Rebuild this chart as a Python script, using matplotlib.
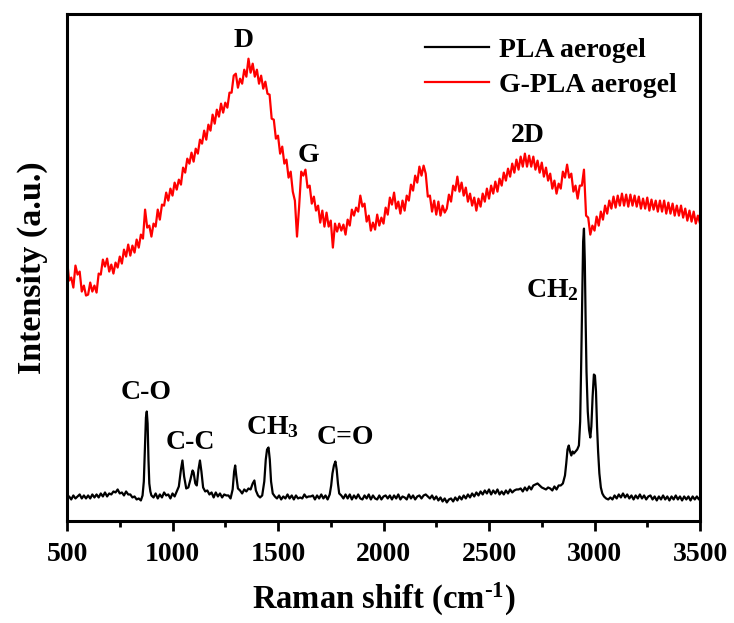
import numpy as np
import matplotlib
matplotlib.use("Agg")
import matplotlib.pyplot as plt

plt.rcParams['font.family'] = 'Liberation Serif'
plt.rcParams['font.weight'] = 'bold'
plt.rcParams['mathtext.fontset'] = 'custom'
plt.rcParams['mathtext.rm'] = 'Liberation Serif:bold'
plt.rcParams['mathtext.it'] = 'Liberation Serif:bold'
plt.rcParams['mathtext.bf'] = 'Liberation Serif:bold'

# G-PLA aerogel, sampled every 10 cm-1 from 500 to 3500
gpla_shift = np.arange(500, 3501, 10)
gpla_int = [
    262, 241, 244, 234, 256, 247, 250, 230, 236, 226,
    227, 239, 230, 236, 229, 248, 247, 262, 255, 263,
    250, 257, 248, 259, 254, 265, 258, 272, 265, 277,
    266, 276, 269, 282, 274, 287, 283, 312, 294, 296,
    285, 298, 295, 312, 302, 317, 316, 329, 321, 333,
    326, 339, 332, 342, 337, 354, 349, 363, 358, 369,
    360, 373, 368, 382, 378, 391, 382, 397, 391, 407,
    398, 412, 405, 418, 409, 419, 414, 429, 429, 446,
    448, 434, 443, 438, 452, 445, 463, 449, 458, 445,
    452, 438, 446, 433, 440, 428, 427, 403, 402, 383,
    386, 368, 375, 358, 362, 344, 350, 330, 321, 285,
    315, 350, 346, 352, 334, 336, 318, 325, 311, 316,
    299, 311, 295, 309, 295, 301, 274, 298, 290, 298,
    291, 297, 287, 302, 296, 312, 306, 314, 310, 326,
    315, 318, 300, 306, 291, 299, 292, 307, 296, 304,
    298, 314, 307, 324, 317, 329, 313, 320, 308, 321,
    311, 326, 321, 337, 331, 346, 339, 355, 346, 356,
    348, 325, 326, 310, 321, 307, 320, 306, 316, 309,
    313, 327, 320, 336, 331, 345, 330, 339, 326, 334,
    320, 328, 316, 324, 311, 323, 315, 328, 320, 333,
    323, 336, 328, 340, 330, 343, 336, 349, 341, 353,
    345, 358, 349, 362, 352, 365, 355, 368, 355, 366,
    355, 365, 352, 361, 349, 359, 345, 354, 341, 348,
    333, 341, 328, 338, 333, 350, 344, 357, 344, 348,
    330, 336, 323, 336, 336, 352, 306, 304, 287, 296,
    291, 305, 296, 310, 302, 316, 308, 321, 313, 325,
    314, 326, 316, 328, 316, 327, 315, 327, 316, 326,
    315, 325, 313, 323, 313, 324, 311, 322, 312, 321,
    310, 321, 310, 321, 308, 319, 308, 318, 306, 316,
    306, 316, 304, 313, 301, 311, 300, 310, 298, 306, 298,
]

# PLA aerogel, denser points around the bands
pla_shift = [
    500, 510, 520, 530, 540, 550, 560, 570, 580, 590,
    600, 610, 620, 630, 640, 650, 660, 670, 680, 690,
    700, 710, 720, 730, 740, 750, 760, 770, 780, 790,
    800, 810, 820, 830, 840, 850,
    858, 864, 870, 874, 878, 882, 886, 890, 895, 900,
    910, 920, 930, 940, 950, 960, 970, 980, 990, 1000,
    1010, 1020, 1030, 1040, 1047, 1055, 1065, 1075, 1085, 1095,
    1100, 1108, 1115, 1123, 1130, 1137, 1145, 1155, 1165, 1175,
    1185, 1195, 1205, 1215, 1225, 1235, 1245, 1255, 1265, 1275,
    1285, 1292, 1297, 1302, 1310, 1320, 1330, 1340, 1350, 1360,
    1370, 1380, 1388, 1395, 1405, 1415, 1425, 1435, 1442, 1448,
    1455, 1461, 1467, 1475, 1485, 1495, 1505, 1515, 1525, 1535,
    1545, 1555, 1565, 1575, 1585, 1595, 1605, 1615, 1625, 1635,
    1645, 1655, 1665, 1675, 1685, 1695, 1705, 1715, 1725, 1735,
    1745, 1752, 1758, 1765, 1772, 1778, 1784, 1790, 1800, 1810,
    1820, 1830, 1840, 1850, 1860, 1870, 1880, 1890, 1900, 1910,
    1920, 1930, 1940, 1950, 1960, 1970, 1980, 1990, 2000, 2010,
    2020, 2030, 2040, 2050, 2060, 2070, 2080, 2090, 2100, 2110,
    2120, 2130, 2140, 2150, 2160, 2170, 2180, 2190, 2200, 2210,
    2220, 2230, 2240, 2250, 2260, 2270, 2280, 2290, 2300, 2310,
    2320, 2330, 2340, 2350, 2360, 2370, 2380, 2390, 2400, 2410,
    2420, 2430, 2440, 2450, 2460, 2470, 2480, 2490, 2500, 2510,
    2520, 2530, 2540, 2550, 2560, 2570, 2580, 2590, 2600, 2610,
    2620, 2630, 2640, 2650, 2660, 2670, 2680, 2690, 2700, 2710,
    2720, 2730, 2740, 2750, 2760, 2770, 2780, 2790, 2800, 2810,
    2820, 2830, 2840, 2850, 2860, 2866, 2872, 2878, 2884, 2890,
    2896, 2902, 2910, 2918, 2926, 2932, 2937, 2942, 2946, 2950,
    2954, 2958, 2962, 2968, 2974, 2980, 2985, 2991, 2997, 3002,
    3007, 3012, 3017, 3023, 3030, 3037, 3045, 3055, 3065, 3075,
    3085, 3095, 3105, 3115, 3125, 3135, 3145, 3155, 3165, 3175,
    3185, 3195, 3205, 3215, 3225, 3235, 3245, 3255, 3265, 3275,
    3285, 3295, 3305, 3315, 3325, 3335, 3345, 3355, 3365, 3375,
    3385, 3395, 3405, 3415, 3425, 3435, 3445, 3455, 3465, 3475,
    3485, 3495, 3500,
]
pla_int = [
    22, 25, 22, 26, 23, 25, 27, 23, 26, 23,
    26, 23, 27, 24, 27, 24, 28, 25, 29, 25,
    28, 27, 30, 29, 32, 28, 29, 26, 30, 27,
    27, 24, 25, 22, 23, 21,
    26, 40, 80, 104, 110, 98, 62, 38, 30, 26,
    24, 28, 23, 27, 24, 29, 26, 27, 23, 28,
    25, 30, 35, 52, 61, 45, 33, 34, 42, 51,
    49, 38, 36, 52, 61, 50, 34, 30, 31, 27,
    29, 24, 29, 25, 28, 24, 27, 26, 26, 23,
    32, 50, 56, 46, 33, 31, 28, 32, 30, 33,
    32, 38, 41, 31, 26, 24, 26, 40, 62, 72,
    74, 62, 40, 28, 25, 23, 26, 22, 25, 23,
    27, 23, 26, 22, 26, 23, 24, 23, 27, 24,
    25, 25, 26, 22, 26, 23, 27, 23, 26, 22,
    27, 36, 48, 56, 60, 52, 38, 28, 26, 23,
    27, 23, 27, 22, 26, 23, 27, 23, 22, 26,
    23, 27, 22, 26, 23, 22, 26, 22, 25, 26,
    23, 26, 22, 26, 23, 27, 22, 25, 24, 22,
    27, 23, 26, 22, 25, 26, 23, 26, 27, 25,
    23, 26, 22, 25, 21, 24, 20, 23, 19, 22,
    23, 20, 24, 21, 25, 22, 26, 23, 27, 24,
    28, 25, 29, 26, 30, 27, 31, 28, 32, 27,
    31, 28, 32, 27, 30, 27, 31, 28, 32, 29,
    31, 32, 32, 33, 30, 34, 31, 35, 32, 36,
    37, 38, 36, 34, 33, 32, 34, 33, 31, 35,
    32, 36, 36, 38, 46, 58, 72, 76, 70, 66,
    70, 68, 70, 72, 76, 100, 160, 230, 280, 293,
    260, 200, 150, 110, 92, 84, 95, 125, 147, 146,
    130, 95, 70, 48, 34, 28, 25, 23, 22, 24,
    22, 26, 23, 27, 24, 28, 24, 27, 23, 26,
    22, 26, 23, 27, 23, 26, 22, 25, 26, 22,
    25, 21, 25, 22, 26, 22, 25, 21, 25, 22,
    26, 22, 25, 21, 25, 22, 25, 21, 25, 22,
    25, 22, 24,
]

# band assignments: (label, shift, height)
pla_bands = [("C-O", 875, 129), ("C-C", 1084, 79), (r"CH$_3$", 1473, 94),
             ("C=O", 1819, 84), (r"CH$_2$", 2802, 231)]
gpla_bands = [("D", 1335, 481), ("G", 1644, 366), ("2D", 2683, 386)]

fig = plt.figure(figsize=(7.34, 6.23), dpi=100)
ax = fig.add_axes([0.0913, 0.163, 0.8624, 0.815])

ax.plot(pla_shift, pla_int, color="black", lw=1.6, label="PLA aerogel")
ax.plot(gpla_shift, gpla_int, color="red", lw=1.6, label="G-PLA aerogel")

for name, xs, ys in pla_bands + gpla_bands:
    ax.text(xs, ys, name, ha="center", va="center", fontsize=20, fontweight="bold")

ax.set_xlim(500, 3500)
ax.set_ylim(0, 508)
ax.set_yticks([])
ax.set_xticks(np.arange(500, 3501, 500))
ax.set_xticks(np.arange(750, 3500, 500), minor=True)
ax.tick_params(axis="x", which="major", direction="out", length=7, width=2, labelsize=20, pad=8)
ax.tick_params(axis="x", which="minor", direction="out", length=4, width=2)
for s in ax.spines.values():
    s.set_linewidth(2.2)

ax.set_xlabel(r"Raman shift (cm$^{\text{-1}}$)", fontsize=23.5, fontweight="bold", labelpad=10)
ax.set_ylabel("Intensity (a.u.)", fontsize=24.5, fontweight="bold", labelpad=14)

leg = ax.legend(loc="upper right", frameon=False, fontsize=20, handlelength=2.3,
                handletextpad=0.35, borderaxespad=0.45, labelspacing=0.35)

fig.savefig("out.png", dpi=100)
